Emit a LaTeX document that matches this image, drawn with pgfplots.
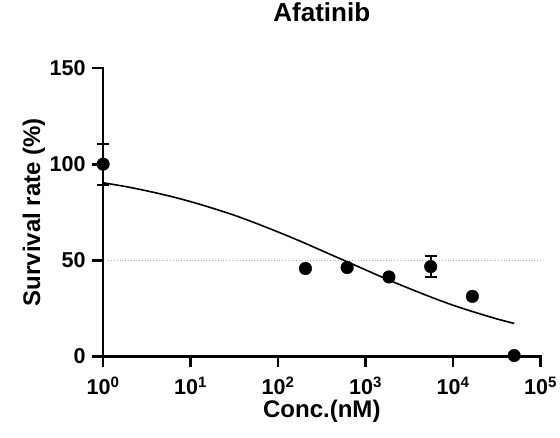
\documentclass[border=0pt]{standalone}
\usepackage{pgfplots}
\pgfplotsset{compat=1.18}
\usepackage{fontspec}
\setmainfont{Liberation Sans}
\usetikzlibrary{calc}
\begin{document}
\begin{tikzpicture}
\begin{axis}[
  name=ax,
  scale only axis,
  width=437pt, height=288pt,
  xmode=log,
  xmin=1, xmax=100000,
  ymin=0, ymax=150,
  clip=false,
  axis x line*=bottom,
  axis y line*=left,
  axis line style={line width=2.8pt, line cap=rect},
  tick align=outside,
  major tick length=11pt,
  tick style={line width=2.8pt, black},
  xminorticks=false,
  yminorticks=false,
  xtick={1,10,100,1000,10000,100000},
  xticklabels={10\textsuperscript{0},10\textsuperscript{1},10\textsuperscript{2},10\textsuperscript{3},10\textsuperscript{4},10\textsuperscript{5}},
  ytick={0,50,100,150},
  yticklabels={0,50,100,150},
  ticklabel style={font=\fontsize{21.5}{25}\selectfont\bfseries},
  xticklabel style={yshift=-6pt},
  yticklabel style={xshift=-3pt},
  title={Afatinib},
  title style={font=\fontsize{26}{30}\selectfont\bfseries, at={(axis description cs:0.5,1)}, anchor=base, yshift=41pt},
  xlabel={Conc.(nM)},
  xlabel style={font=\fontsize{24}{28}\selectfont\bfseries, at={(axis description cs:0.5,0)}, anchor=base, yshift=-61pt},
  ylabel={Survival rate (\%)},
  ylabel style={font=\fontsize{24}{28}\selectfont\bfseries, at={(axis description cs:-0.144,0.5)}, anchor=base},
]
\coordinate (sw) at (rel axis cs:0,0);
\coordinate (ne) at (rel axis cs:1,1);
% dotted reference line at 50
\addplot[dotted, gray!60, line width=0.8pt, forget plot] coordinates {(1.15,50) (100000,50)};
% fitted curve
\addplot[black, line width=1.6pt, smooth, no marks] coordinates {
(1,90.3) (1.778,88.4) (3.162,86.1) (5.623,83.5) (10,80.5) (17.78,77.1) (31.62,73.4)
(56.23,69.2) (100,64.7) (177.8,60.0) (316.2,55.0) (562.3,50.0) (1000,45.0)
(1778,40.0) (3162,35.3) (5623,30.8) (10000,26.6) (17783,22.9) (31623,19.5) (50119,17.1)
};
% points with error bars
\addplot[only marks, mark=*, mark size=6.3pt, black,
  error bars/.cd, y dir=both, y explicit,
  error bar style={line width=2pt, black},
  error mark options={rotate=90, mark size=6pt, line width=2pt, black}]
  table[x=x, y=y, y error=e] {
x y e
1 100 10.6
5556 46.7 5.5
};
% points without visible error bars
\addplot[only marks, mark=*, mark size=6.3pt, black] table[x=x, y=y] {
x y
205.8 45.7
617.3 46.2
1852 41.3
16667 31.2
50000 0.4
};
\end{axis}
\pgfresetboundingbox
\path ($(sw)+(-103pt,-81.5pt)$) rectangle ($(ne)+(19.5pt,68pt)$);
\end{tikzpicture}
\end{document}
